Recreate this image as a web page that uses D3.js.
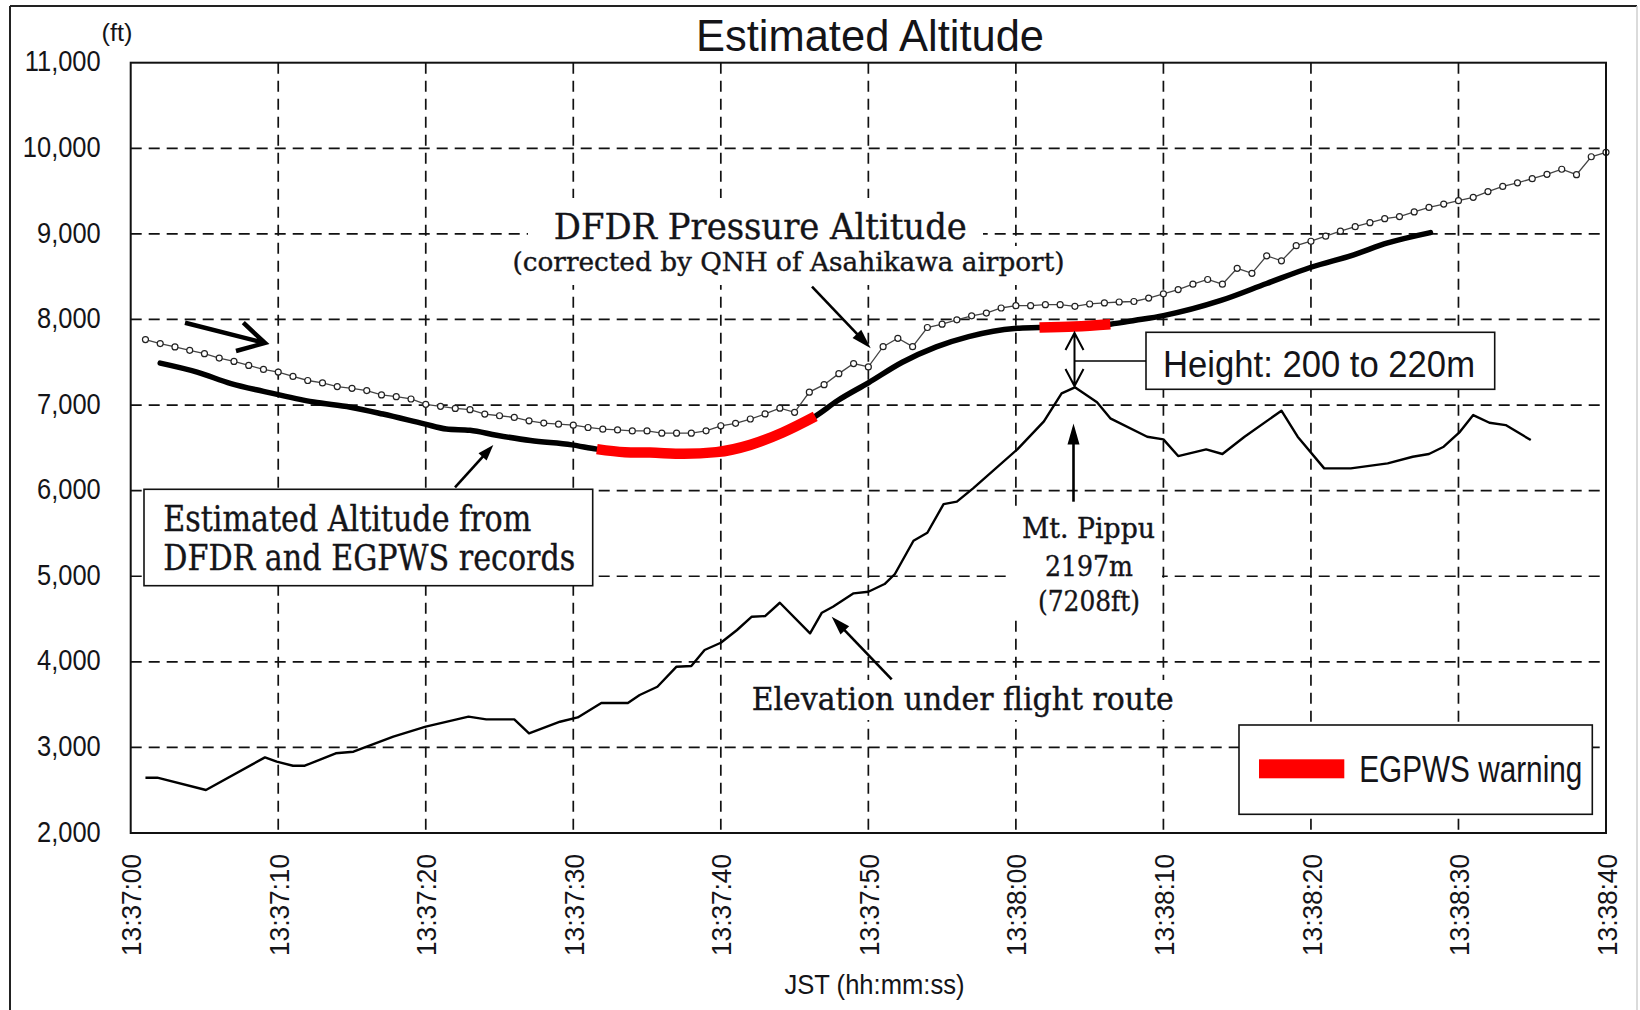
<!DOCTYPE html>
<html><head><meta charset="utf-8">
<script src="https://cdn.jsdelivr.net/npm/d3@7"></script>
<style>html,body{margin:0;padding:0;background:#fff;}svg{display:block;}</style>
</head><body>
<script>
// ---------------- data ----------------
const xTickSeconds = [0,10,20,30,40,50,60,70,80,90,100];
const xTickLabels = ["13:37:00","13:37:10","13:37:20","13:37:30","13:37:40","13:37:50","13:38:00","13:38:10","13:38:20","13:38:30","13:38:40"];
const yTickValues = [2000,3000,4000,5000,6000,7000,8000,9000,10000,11000];
const yTickLabels = ["2,000","3,000","4,000","5,000","6,000","7,000","8,000","9,000","10,000","11,000"];

// DFDR pressure altitude (ft), one sample per second from 13:37:01 to 13:38:40
const pressureAlt = [
 7765,7718,7679,7639,7600,7549,7510,7463,7416,7385,
 7334,7287,7259,7216,7196,7169,7118,7098,7071,7008,
 6985,6961,6946,6895,6875,6855,6816,6789,6777,6765,
 6738,6718,6710,6698,6698,6672,6672,6672,6699,6758,
 6786,6837,6896,6963,6915,7151,7238,7367,7485,7446,
 7682,7780,7682,7906,7945,7996,8043,8075,8134,8161,
 8161,8173,8173,8153,8181,8193,8204,8210,8250,8300,
 8349,8412,8467,8412,8598,8539,8744,8685,8862,8914,
 8973,9032,9084,9131,9178,9202,9257,9309,9348,9388,
 9427,9494,9554,9597,9645,9696,9755,9692,9901,9953];
const pressureT = d3.range(1, 101);

// Estimated altitude (ft) from DFDR and EGPWS records
const estimatedT   = [2,4.5,6.8,9,12.4,14.9,17.1,19.9,21.4,23,24.8,27.1,29.9,31.6,33.5,35.2,37.5,39.7,42,44.2,46.4,47.9,50,52.3,54.6,56.8,59.9,61.6,64,66.4,68.1,70,73.9,77,80,82.9,85.2,88.1];
const estimatedAlt = [7490,7385,7250,7160,7035,6975,6895,6780,6720,6705,6648,6585,6535,6485,6450,6445,6430,6450,6535,6680,6868,7050,7260,7500,7680,7800,7895,7905,7917,7945,7990,8045,8222,8420,8610,8756,8894,9015];

// Elevation under flight route (ft)
const elevationT   = [1,1.8,5.1,9.1,9.9,11,11.8,13.9,15.1,17.8,20,22.9,24.1,26,27,29.1,30.3,31.9,33.7,34.5,35.7,37,38,38.9,40,41.1,42.1,43,44,46.05,46.85,47.6,49,50,51.1,51.8,53.06,54,55.1,56,57.1,60.1,61.9,63.1,64,65.5,66.4,68.9,70,71,72.9,74,75.5,78,79.1,80.9,82.7,85.2,86.9,88,89,90.1,91,92.1,93.2,94.9];
const elevationAlt = [2646,2646,2502,2884,2833,2786,2786,2931,2950,3125,3242,3359,3328,3328,3165,3300,3350,3519,3519,3612,3709,3943,3951,4138,4223,4372,4527,4535,4690,4333,4574,4644,4800,4819,4909,5026,5415,5508,5843,5871,6027,6483,6810,7137,7207,7033,6845,6630,6599,6404,6482,6428,6630,6934,6630,6260,6260,6319,6396,6428,6513,6688,6883,6793,6766,6591];

// EGPWS warning intervals (seconds after 13:37:00)
const warningSpans = [[31.6,46.4],[61.6,66.4]];

// ---------------- layout ----------------
const W = 1640, H = 1010;
const PL = 130.7, PR = 1606, PT = 62.7, PB = 833;
const SANS = "'Liberation Sans Narrow','Arial Narrow','Liberation Sans',Arial,sans-serif";
const SANS_REG = "'Liberation Sans',Arial,sans-serif";
const SERIF = "'DejaVu Serif Condensed','DejaVu Serif',serif";
const INK = "#141418";

const svg = d3.select("body").append("svg").attr("width", W).attr("height", H);
svg.append("rect").attr("width", W).attr("height", H).attr("fill", "#fff");

// outer border
svg.append("line").attr("x1",10).attr("y1",6).attr("x2",10).attr("y2",H).attr("stroke","#222").attr("stroke-width",2);
svg.append("line").attr("x1",10).attr("y1",6).attr("x2",1637).attr("y2",6).attr("stroke","#222").attr("stroke-width",2);
svg.append("line").attr("x1",1637).attr("y1",6).attr("x2",1637).attr("y2",H).attr("stroke","#cfcfcf").attr("stroke-width",1.5);

const x = d3.scaleLinear().domain([0,100]).range([PL,PR]);
const y = d3.scaleLinear().domain([2000,11000]).range([PB,PT]);

function fit(sel, w){ sel.attr("textLength", w).attr("lengthAdjust","spacingAndGlyphs"); return sel; }

// grid
const grid = svg.append("g").attr("stroke","#111").attr("stroke-width",1.7).attr("stroke-dasharray","11,7");
grid.selectAll("line.h").data(yTickValues.filter(v=>v>2000 && v<11000)).join("line")
  .attr("x1",PL).attr("x2",PR).attr("y1",d=>y(d)).attr("y2",d=>y(d));
grid.selectAll("line.v").data(xTickSeconds.filter(s=>s>0 && s<100)).join("line")
  .attr("y1",PT).attr("y2",PB).attr("x1",d=>x(d)).attr("x2",d=>x(d));

// white backgrounds behind free annotations
const bg = svg.append("g").attr("fill","#fff");
bg.append("rect").attr("x",528).attr("y",198).attr("width",455).attr("height",48);
bg.append("rect").attr("x",505).attr("y",246).attr("width",567).attr("height",39);
bg.append("rect").attr("x",1008).attr("y",506).attr("width",154).attr("height",114);
bg.append("rect").attr("x",745).attr("y",680).attr("width",435).attr("height",40);

// elevation line
svg.append("path")
  .datum(elevationT.map((t,i)=>[t,elevationAlt[i]]))
  .attr("fill","none").attr("stroke","#000").attr("stroke-width",2.4).attr("stroke-linejoin","round")
  .attr("d", d3.line().x(d=>x(d[0])).y(d=>y(d[1])));

// pressure altitude line + markers
const presPts = pressureT.map((t,i)=>[t,pressureAlt[i]]);
svg.append("path").datum(presPts)
  .attr("fill","none").attr("stroke","#444").attr("stroke-width",1.3)
  .attr("d", d3.line().x(d=>x(d[0])).y(d=>y(d[1])));
svg.append("g").selectAll("circle").data(presPts).join("circle")
  .attr("cx",d=>x(d[0])).attr("cy",d=>y(d[1])).attr("r",3)
  .attr("fill","#fff").attr("stroke","#222").attr("stroke-width",1.2);

// estimated altitude
const estPts = estimatedT.map((t,i)=>[t,estimatedAlt[i]]);
const estLine = d3.line().x(d=>x(d[0])).y(d=>y(d[1])).curve(d3.curveMonotoneX);
svg.append("path").datum(estPts)
  .attr("fill","none").attr("stroke","#000").attr("stroke-width",5.5).attr("stroke-linecap","round")
  .attr("d", estLine);
// EGPWS warning segments
svg.append("g").selectAll("path").data(warningSpans).join("path")
  .attr("fill","none").attr("stroke","#ff0000").attr("stroke-width",10.5)
  .attr("d", s => estLine(estPts.filter(p=>p[0]>=s[0]-1e-9 && p[0]<=s[1]+1e-9)));

// plot frame
svg.append("rect").attr("x",PL).attr("y",PT).attr("width",PR-PL).attr("height",PB-PT)
  .attr("fill","none").attr("stroke","#111").attr("stroke-width",2);

// y axis
const yAxis = svg.append("g").attr("transform",`translate(${PL},0)`)
  .call(d3.axisLeft(y).tickValues(yTickValues).tickFormat((d,i)=>yTickLabels[i]).tickSize(0).tickPadding(30));
yAxis.select(".domain").remove();
yAxis.selectAll("text").attr("font-family",SANS).attr("font-size",29).attr("fill",INK).attr("dy","0.28em");
{
  const nodes = yAxis.selectAll("text").nodes();
  const ref = nodes[nodes.length-1];
  const k = 76 / ref.getComputedTextLength();
  nodes.forEach(n => { const w = n.getComputedTextLength()*k; d3.select(n).call(fit, w); });
}

// x axis
const xAxis = svg.append("g").attr("transform",`translate(0,${PB})`)
  .call(d3.axisBottom(x).tickValues(xTickSeconds).tickFormat((d,i)=>xTickLabels[i]).tickSize(0));
xAxis.select(".domain").remove();
xAxis.selectAll("text")
  .attr("font-family",SANS).attr("font-size",28).attr("fill",INK)
  .attr("transform","rotate(-90)").attr("text-anchor","end")
  .attr("x",-21).attr("y",0).attr("dy","0.36em")
  .call(fit, 102);

// titles
svg.append("text").attr("x",870).attr("y",51).attr("text-anchor","middle")
  .attr("font-family",SANS_REG).attr("font-size",45).attr("fill",INK)
  .text("Estimated Altitude").call(fit,348);
svg.append("text").attr("x",101.5).attr("y",41).attr("font-family",SANS_REG).attr("font-size",23).attr("fill",INK)
  .text("(ft)").call(fit,31);
svg.append("text").attr("x",874.5).attr("y",994).attr("text-anchor","middle")
  .attr("font-family",SANS).attr("font-size",28).attr("fill",INK)
  .text("JST (hh:mm:ss)").call(fit,180);

// serif annotations
function serif(txt, xx, yy, size, w, anchor){
  return svg.append("text").attr("x",xx).attr("y",yy).attr("text-anchor",anchor||"start")
    .attr("font-family",SERIF).attr("font-size",size).attr("fill",INK)
    .attr("stroke",INK).attr("stroke-width",0.35).text(txt).call(fit,w);
}
serif("DFDR Pressure Altitude", 553.8, 239.3, 35, 413);
serif("(corrected by QNH of Asahikawa airport)", 512.5, 270.7, 26, 552);
serif("Mt. Pippu", 1088.5, 538.3, 27.5, 133, "middle");
serif("2197m", 1089, 576, 27.5, 88, "middle");
serif("(7208ft)", 1089, 610.5, 27.5, 102, "middle");
serif("Elevation under flight route", 751.7, 710, 32, 422);

// box: estimated altitude
svg.append("rect").attr("x",144).attr("y",489.3).attr("width",448.7).attr("height",96.4)
  .attr("fill","#fff").attr("stroke","#111").attr("stroke-width",1.6);
serif("Estimated Altitude from", 163.3, 530.7, 35, 368);
serif("DFDR and EGPWS records", 163.3, 570, 35, 412);

// box: height
svg.append("rect").attr("x",1146).attr("y",332.3).attr("width",348.7).attr("height",57)
  .attr("fill","#fff").attr("stroke","#111").attr("stroke-width",1.6);
svg.append("text").attr("x",1163).attr("y",376.7).attr("font-family",SANS).attr("font-size",36).attr("fill",INK)
  .text("Height: 200 to 220m").call(fit,312);

// legend
svg.append("rect").attr("x",1239).attr("y",725).attr("width",353.3).attr("height",89.3)
  .attr("fill","#fff").attr("stroke","#111").attr("stroke-width",1.6);
svg.append("rect").attr("x",1259).attr("y",759.3).attr("width",85.3).attr("height",19).attr("fill","#ff0000");
svg.append("text").attr("x",1359.3).attr("y",781.7).attr("font-family",SANS).attr("font-size",37).attr("fill",INK)
  .text("EGPWS warning").call(fit,223);

// arrows
function arrow(x1,y1,x2,y2,hl,hw,sw){
  const a = Math.atan2(y2-y1,x2-x1);
  const bx = x2 - hl*Math.cos(a), by = y2 - hl*Math.sin(a);
  const nx = -Math.sin(a)*hw/2, ny = Math.cos(a)*hw/2;
  svg.append("line").attr("x1",x1).attr("y1",y1).attr("x2",bx+ (x2-bx)*0.3).attr("y2",by+(y2-by)*0.3)
    .attr("stroke","#000").attr("stroke-width",sw);
  svg.append("path").attr("d",`M${x2},${y2}L${bx+nx},${by+ny}L${bx-nx},${by-ny}Z`).attr("fill","#000");
}
arrow(812,286.7,870.7,348.3,20,12,2.6);
arrow(455,487.3,493.3,445,16,11,2.6);
arrow(891.7,679.3,831.7,616.7,19,12,2.6);
arrow(1073.5,501.7,1073.5,423.6,21,12,2.6);

// thick open arrow (top-left)
svg.append("path").attr("d","M185,322.7L265,343M243.3,322.7L265,343L236,351")
  .attr("fill","none").attr("stroke","#000").attr("stroke-width",4.5).attr("stroke-linejoin","miter");

// double arrow + connector
const dax = 1074.5;
svg.append("path").attr("d",`M${dax},333L${dax},386M${dax-9},350L${dax},333L${dax+9},350M${dax-9},369L${dax},386L${dax+9},369`)
  .attr("fill","none").attr("stroke","#000").attr("stroke-width",2);
svg.append("line").attr("x1",dax).attr("y1",361).attr("x2",1146).attr("y2",361).attr("stroke","#000").attr("stroke-width",1.5);
</script>
</body></html>
